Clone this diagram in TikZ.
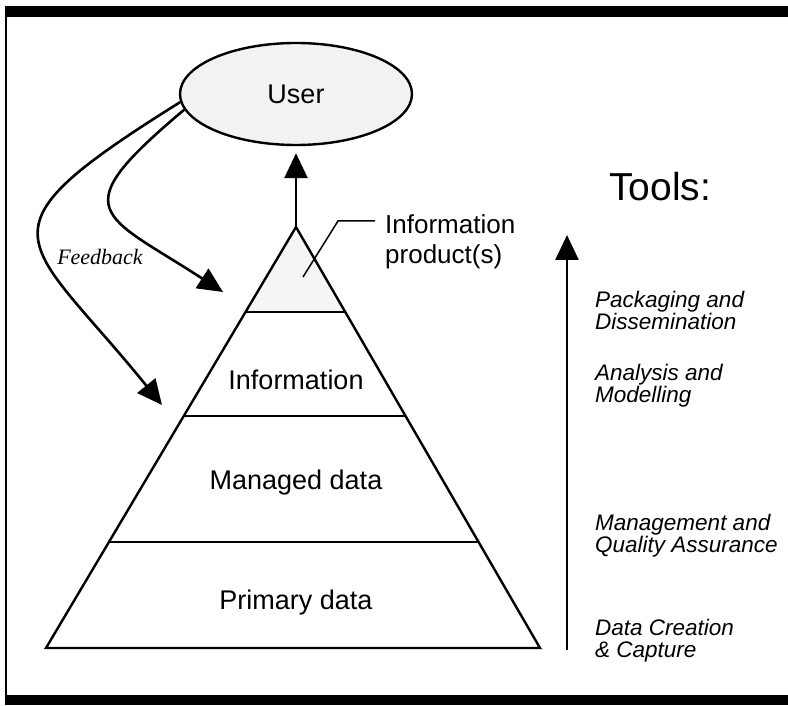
\documentclass[tikz,border=0pt]{standalone}
\usepackage{fontspec}
\setmainfont{Liberation Sans}
\newfontfamily\serifit{Liberation Serif}
\usetikzlibrary{arrows.meta,calc,shapes.geometric}
\begin{document}
\begin{tikzpicture}[x=1pt,y=1pt,
  outline/.style={line width=2.4pt, line join=miter},
  layer/.style={line width=2pt},
  bigarrow/.style={line width=2.6pt,-{Triangle[length=25pt,width=23pt]}},
  lbl/.style={font=\fontsize{27}{31}\selectfont, inner sep=0pt},
  tool/.style={font=\fontsize{22.5}{22}\selectfont\itshape, align=left, anchor=base west, inner sep=0pt},
]
\useasboundingbox (0,0) rectangle (788,705);
% frame
\fill (7,688) rectangle (788,699);
\fill (5,0) rectangle (788,10);
\draw[line width=1.5pt] (6,0) -- (6,699);

% pyramid
\coordinate (A) at (296,478);
\coordinate (BL) at (46,57);
\coordinate (BR) at (540,57);
\coordinate (L1) at ($(A)!0.2019!(BL)$);
\coordinate (R1) at ($(A)!0.2019!(BR)$);
\coordinate (L2) at ($(A)!0.4489!(BL)$);
\coordinate (R2) at ($(A)!0.4489!(BR)$);
\coordinate (L3) at ($(A)!0.7482!(BL)$);
\coordinate (R3) at ($(A)!0.7482!(BR)$);
\fill[black!4] (A) -- (L1) -- (R1) -- cycle;
\draw[outline] (A) -- (BL) -- (BR) -- cycle;
\draw[layer] (L1) -- (R1);
\draw[layer] (L2) -- (R2);
\draw[layer] (L3) -- (R3);

\node[lbl, anchor=base] (info) at (296,315) {Information};
\node[lbl, anchor=base] (managed) at (296,215) {Managed data};
\node[lbl, anchor=base] (primary) at (296,95) {Primary data};

% user
\node[ellipse, draw, line width=2.4pt, fill=black!5, minimum width=232pt,
      minimum height=102pt, inner sep=0pt, font=\fontsize{27}{31}\selectfont] (user) at (296,611) {User};
\draw[bigarrow, shorten >=7pt] (A) -- (user.south);

% feedback
\coordinate (fb1) at (162,300);
\coordinate (fb2) at (223,413);
\draw[bigarrow] (user.184) .. controls +(212:250) and +(129:220) .. (fb1);
\draw[bigarrow] (user.188) .. controls +(220:160) and +(147:145) .. (fb2);
\node[font=\serifit\itshape\fontsize{22}{22}\selectfont, anchor=base, inner sep=0pt] (fb) at (100,440) {Feedback};

% callout
\coordinate (c1) at (303,428);
\coordinate (c2) at (338,484);
\coordinate (c3) at (375,484);
\draw[line width=1.5pt] (c1) -- (c2) -- (c3);
\node[font=\fontsize{26}{30}\selectfont, align=left, anchor=base west, inner sep=0pt] (ip) at (385,441) {Information\\product(s)};

% tools
\node[font=\fontsize{39}{44}\selectfont, anchor=base west, inner sep=0pt] (tools) at (609,504) {Tools:};
\coordinate (t0) at (567,55);
\coordinate (t1) at (567,470);
\draw[bigarrow] (t0) -- (t1);
\node[tool] (pack) at (595,375) {Packaging and\\Dissemination};
\node[tool] (anal) at (595,302) {Analysis and\\Modelling};
\node[tool] (mgmt) at (595,152) {Management and\\Quality Assurance};
\node[tool] (data) at (595,48) {Data Creation\\\& Capture};
\end{tikzpicture}
\end{document}
